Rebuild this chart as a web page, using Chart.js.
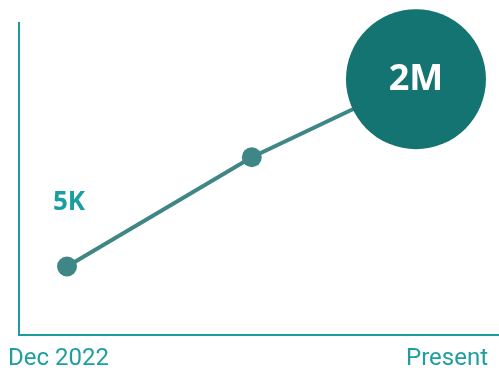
<!DOCTYPE html>
<html>
<head>
<meta charset="utf-8">
<script src="https://cdn.jsdelivr.net/npm/chart.js@4"></script>
<style>
	html, body { margin: 0; padding: 0; background: #ffffff; }
	#wrap { width: 499px; height: 370px; }
</style>
</head>
<body>
<div id="wrap"><canvas id="growthChart" width="499" height="370"></canvas></div>
<script>
"use strict";

// Positions along the timeline (0 = Dec 2022, 100 = present) and relative height of each point
const timeline = [10, 48.5, 82.7];
const growth = [22, 57, 82];
const pointLabels = ["5K", "", "2M"];
const tickLabels = ["Dec 2022", "Present"];

const axisColor = "#1c9d9d";
const lineColor = "#3f8687";
const bigColor = "#137471";

// Draws the "5K" and "2M" labels next to / inside the points
const pointLabelPlugin = {
	id: "pointLabels",
	afterDatasetsDraw(chart) {
		const ctx = chart.ctx;
		const points = chart.getDatasetMeta(0).data;
		ctx.save();
		ctx.textAlign = "center";
		ctx.textBaseline = "middle";
		points.forEach(function (point, i) {
			if (!pointLabels[i]) return;
			if (i === points.length - 1) {
				ctx.fillStyle = "#ffffff";
				ctx.font = "bold 36px 'Open Sans'";
				ctx.fillText(pointLabels[i], point.x, point.y + 1);
			} else {
				ctx.fillStyle = "#1a9ea0";
				ctx.font = "bold 26px 'Open Sans'";
				ctx.fillText(pointLabels[i], point.x + 2, point.y - 64);
			}
		});
		ctx.restore();
	},
};

const ctx = document.getElementById("growthChart");

new Chart(ctx, {
	type: "line",
	data: {
		datasets: [
			{
				data: timeline.map(function (x, i) {
					return { x: x, y: growth[i] };
				}),
				borderColor: lineColor,
				borderWidth: 4,
				pointRadius: [10, 10, 70],
				pointHoverRadius: [10, 10, 70],
				pointBackgroundColor: [lineColor, lineColor, bigColor],
				pointBorderWidth: 0,
				clip: false,
				tension: 0,
			},
		],
	},
	options: {
		responsive: false,
		animation: false,
		events: [],
		layout: {
			autoPadding: false,
			padding: { top: 23, left: 19, right: 0, bottom: -12 },
		},
		plugins: {
			legend: { display: false },
			tooltip: { enabled: false },
		},
		scales: {
			x: {
				type: "linear",
				min: 0,
				max: 100,
				grid: { display: false, drawTicks: false },
				border: { display: true, color: axisColor, width: 2 },
				afterBuildTicks: function (scale) {
					scale.ticks = [{ value: 0 }, { value: 100 }];
				},
				afterFit: function (scale) {
					scale.paddingLeft = 0;
					scale.paddingRight = 0;
				},
				ticks: {
					align: "inner",
					labelOffset: -11,
					padding: 9,
					color: "#1f9ea0",
					font: { family: "Roboto", size: 24 },
					callback: function (value, index) {
						return tickLabels[index];
					},
				},
			},
			y: {
				min: 0,
				max: 100,
				grid: { display: false, drawTicks: false },
				border: { display: true, color: axisColor, width: 2 },
				ticks: { display: false },
			},
		},
	},
	plugins: [pointLabelPlugin],
});
</script>
</body>
</html>
